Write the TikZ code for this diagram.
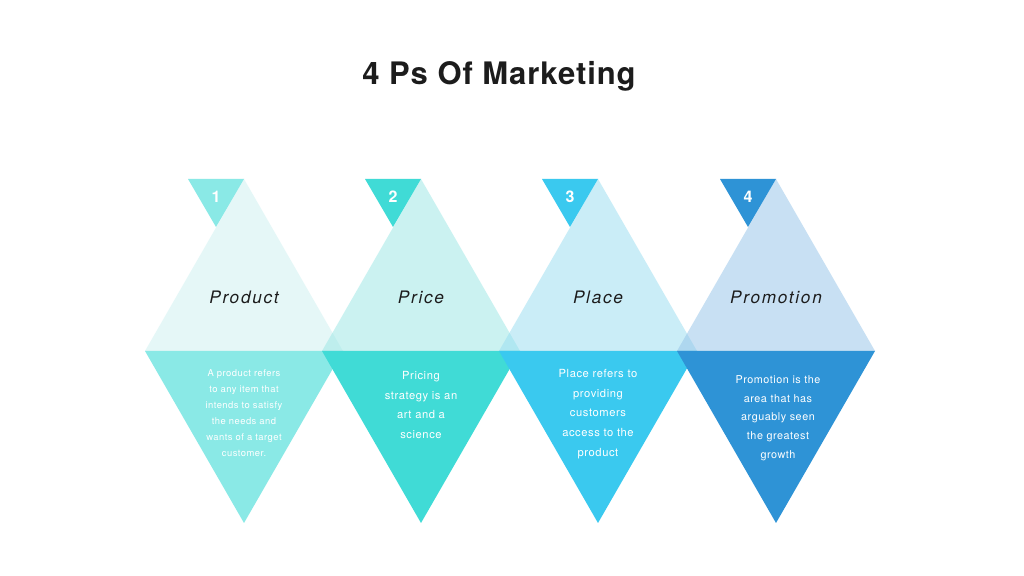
\documentclass[tikz,border=0pt]{standalone}
\usepackage{fontspec}
\setmainfont{TeX Gyre Heros}
\newfontfamily\titlefont[LetterSpace=3]{TeX Gyre Heros}
\newfontfamily\labelfont[LetterSpace=10]{TeX Gyre Heros}
\newfontfamily\bodyfont[LetterSpace=5]{TeX Gyre Heros}

\definecolor{topA}{HTML}{CDF1F1}
\definecolor{topB}{HTML}{99E7E5}
\definecolor{topC}{HTML}{97DDF1}
\definecolor{topD}{HTML}{93C3E9}
\definecolor{botA}{HTML}{8AE9E6}
\definecolor{botB}{HTML}{40DBD6}
\definecolor{botC}{HTML}{3AC9EF}
\definecolor{botD}{HTML}{2E93D6}
\definecolor{titlegray}{HTML}{1C1C1C}

\begin{document}
\begin{tikzpicture}[x=0.5pt, y=-0.5pt,
    upper/.style={fill opacity=0.5},
    numtext/.style={text=white, font=\bfseries\fontsize{8}{9}\selectfont, anchor=base},
    headtext/.style={text=titlegray, font=\labelfont\itshape\fontsize{8.6}{10}\selectfont, anchor=base},
    bodytext/.style={text=white, align=center}]

    % Set diamond dimensions
    \pgfmathsetmacro{\halfwidth}{99}
    \pgfmathsetmacro{\topy}{179}
    \pgfmathsetmacro{\midy}{351}
    \pgfmathsetmacro{\bottomy}{523}

    \useasboundingbox[fill=white] (0,0) rectangle (1024,576);

    % Draw title
    \node[text=titlegray, font=\titlefont\bfseries\fontsize{15.5}{18}\selectfont, anchor=base] (title) at (499, 85) {4 Ps Of Marketing};

    % Draw upper halves of the diamonds
    \fill[topA, upper] (244-\halfwidth, \midy) -- (244, \topy) -- (244+\halfwidth, \midy) -- cycle;
    \fill[topB, upper] (421-\halfwidth, \midy) -- (421, \topy) -- (421+\halfwidth, \midy) -- cycle;
    \fill[topC, upper] (598-\halfwidth, \midy) -- (598, \topy) -- (598+\halfwidth, \midy) -- cycle;
    \fill[topD, upper] (776-\halfwidth, \midy) -- (776, \topy) -- (776+\halfwidth, \midy) -- cycle;

    % Draw lower halves of the diamonds
    \fill[botA] (244-\halfwidth, \midy) -- (244+\halfwidth, \midy) -- (244, \bottomy) -- cycle;
    \fill[botB] (421-\halfwidth, \midy) -- (421+\halfwidth, \midy) -- (421, \bottomy) -- cycle;
    \fill[botC] (598-\halfwidth, \midy) -- (598+\halfwidth, \midy) -- (598, \bottomy) -- cycle;
    \fill[botD] (776-\halfwidth, \midy) -- (776+\halfwidth, \midy) -- (776, \bottomy) -- cycle;

    % Draw number triangles
    \fill[botA] (244-56, \topy) -- (244, \topy) -- (244-28, 227) -- cycle;
    \fill[botB] (421-56, \topy) -- (421, \topy) -- (421-28, 227) -- cycle;
    \fill[botC] (598-56, \topy) -- (598, \topy) -- (598-28, 227) -- cycle;
    \fill[botD] (776-56, \topy) -- (776, \topy) -- (776-28, 227) -- cycle;

    \node[numtext] (numone) at (244-28, 203) {1};
    \node[numtext] (numtwo) at (421-28, 203) {2};
    \node[numtext] (numthree) at (598-28, 203) {3};
    \node[numtext] (numfour) at (776-28, 203) {4};

    % Draw headings
    \node[headtext] (product) at (244, 304) {Product};
    \node[headtext] (price) at (421, 304) {Price};
    \node[headtext] (place) at (598, 304) {Place};
    \node[headtext] (promotion) at (776, 304) {Promotion};

    % Draw descriptions
    \node[bodytext, font=\bodyfont\fontsize{4.7}{8}\selectfont] (productdesc) at (244, 413)
        {A product refers\\to any item that\\intends to satisfy\\the needs and\\wants of a target\\customer.};
    \node[bodytext, font=\bodyfont\fontsize{5.6}{9.8}\selectfont] (pricedesc) at (421, 405)
        {Pricing\\strategy is an\\art and a\\science};
    \node[bodytext, font=\bodyfont\fontsize{5.6}{9.8}\selectfont] (placedesc) at (598, 414)
        {Place refers to\\providing\\customers\\access to the\\product};
    \node[bodytext, font=\bodyfont\fontsize{5.4}{9.35}\selectfont] (promotiondesc) at (778, 418)
        {Promotion is the\\area that has\\arguably seen\\the greatest\\growth};
\end{tikzpicture}
\end{document}
